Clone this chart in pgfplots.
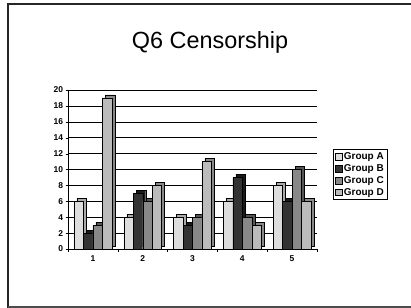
\documentclass[border=0pt]{standalone}
\usepackage{pgfplots}
\pgfplotsset{compat=1.18}
\usepackage{fontspec}
\setmainfont{Liberation Sans}
\definecolor{cA}{HTML}{DDDDDD}
\definecolor{cAs}{HTML}{AAAAAA}
\definecolor{cB}{HTML}{333333}
\definecolor{cBs}{HTML}{1A1A1A}
\definecolor{cC}{HTML}{888888}
\definecolor{cCs}{HTML}{555555}
\definecolor{cD}{HTML}{BBBBBB}
\definecolor{cDs}{HTML}{888888}
\begin{document}
\begin{tikzpicture}[x=1bp,y=1bp]
\path[use as bounding box] (0,0) rectangle (411,-308);
\draw[line width=1.3bp,black!85] (411,-4) -- (8,-4) -- (8,-308);
\draw[line width=1.3bp,black!70] (8,-307) -- (411,-307);
\node[font=\fontsize{23.5}{26}\selectfont] at (210,-42) {Q6 Censorship};
\begin{axis}[
  at={(68bp,-249bp)}, anchor=south west,
  width=249bp, height=159bp, scale only axis,
  xmin=0.5, xmax=5.5, ymin=0, ymax=20,
  ytick={0,2,...,20},
  xtick={1,2,3,4,5},
  minor xtick={0.5,1.5,2.5,3.5,4.5,5.5},
  xticklabels={1,2,3,4,5},
  major x tick style={draw=none},
  minor x tick style={black, thin},
  minor tick length=2.5bp,
  ymajorgrids, grid style={black, line width=0.6bp},
  axis x line*=bottom, axis y line*=left,
  x axis line style={-}, y axis line style={-},
  ytick style={black}, major tick length=2.5bp,
  tick align=outside,
  ticklabel style={font=\fontsize{8.5}{9}\selectfont\bfseries},
  yticklabel style={xshift=1bp},
  /pgf/number format/assume math mode=true,
  xticklabel style={yshift=-1bp},
  ybar, bar width=0.19,
  legend style={at={(1.066,0.628)}, anchor=north west, draw=black, line width=0.6bp,
    font=\fontsize{10}{11}\selectfont\bfseries, inner sep=1.2bp, row sep=-0.6bp,
    cells={anchor=west}},
  legend image code/.code={\draw[#1,draw=black,line width=0.4bp] (0bp,-3.3bp) rectangle (6.6bp,3.3bp);},
  legend cell align=left,
]
% Group A
\addplot[fill=cAs, draw=black, line width=0.4bp, bar shift=-0.285, xshift=3bp, yshift=3bp, forget plot] coordinates {(1,6) (2,4) (3,4) (4,6) (5,8)};
\addplot[fill=cA, draw=black, line width=0.4bp, bar shift=-0.285] coordinates {(1,6) (2,4) (3,4) (4,6) (5,8)};
% Group B
\addplot[fill=cBs, draw=black, line width=0.4bp, bar shift=-0.095, xshift=3bp, yshift=3bp, forget plot] coordinates {(1,2) (2,7) (3,3) (4,9) (5,6)};
\addplot[fill=cB, draw=black, line width=0.4bp, bar shift=-0.095] coordinates {(1,2) (2,7) (3,3) (4,9) (5,6)};
% Group C
\addplot[fill=cCs, draw=black, line width=0.4bp, bar shift=0.095, xshift=3bp, yshift=3bp, forget plot] coordinates {(1,3) (2,6) (3,4) (4,4) (5,10)};
\addplot[fill=cC, draw=black, line width=0.4bp, bar shift=0.095] coordinates {(1,3) (2,6) (3,4) (4,4) (5,10)};
% Group D
\addplot[fill=cDs, draw=black, line width=0.4bp, bar shift=0.285, xshift=3bp, yshift=3bp, forget plot] coordinates {(1,19) (2,8) (3,11) (4,3) (5,6)};
\addplot[fill=cD, draw=black, line width=0.4bp, bar shift=0.285] coordinates {(1,19) (2,8) (3,11) (4,3) (5,6)};
\legend{Group A,Group B,Group C,Group D}
\end{axis}
\end{tikzpicture}
\end{document}
